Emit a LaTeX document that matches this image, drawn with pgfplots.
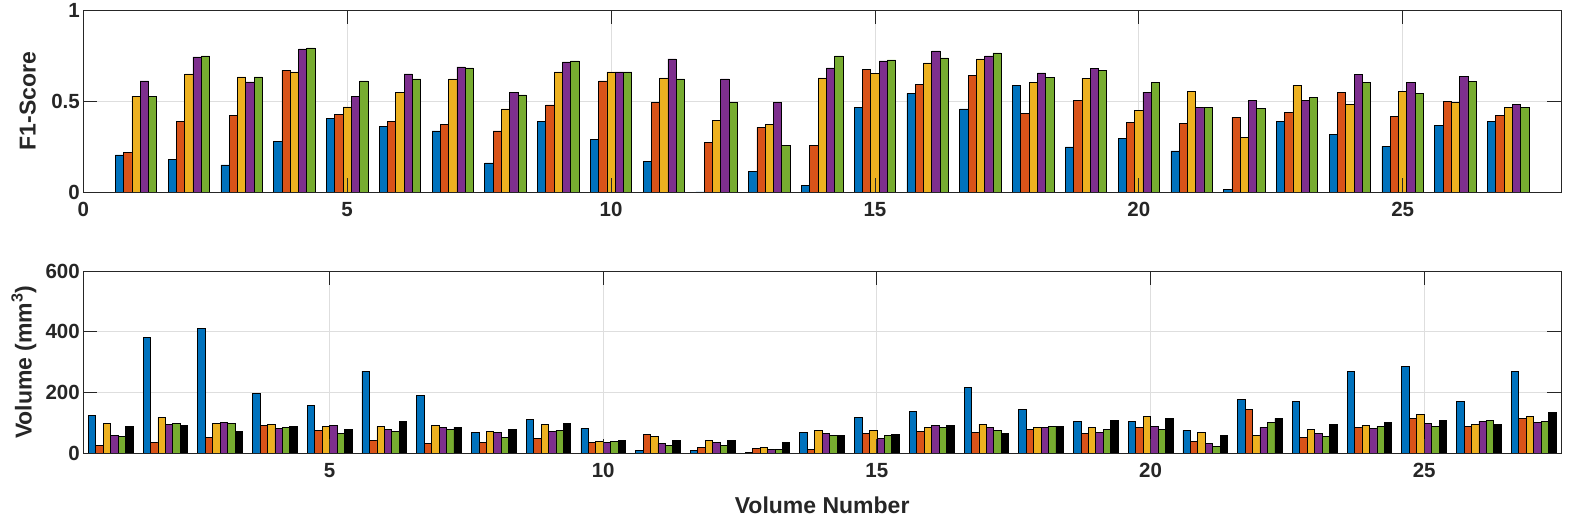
\documentclass[border=0pt]{standalone}
\usepackage{fontspec}
\setmainfont{Liberation Sans}
\usepackage{pgfplots}
\usepackage{pgfplotstable}
\pgfplotsset{compat=1.18}

% MATLAB default colour order
\definecolor{mblue}{rgb}{0,0.447,0.741}
\definecolor{morange}{rgb}{0.850,0.325,0.098}
\definecolor{myellow}{rgb}{0.929,0.694,0.125}
\definecolor{mpurple}{rgb}{0.494,0.184,0.556}
\definecolor{mgreen}{rgb}{0.466,0.674,0.188}
\definecolor{axgray}{HTML}{262626}
\definecolor{gridgray}{HTML}{DEDEDE}

\newcommand{\labelfont}{\fontsize{23}{23}\selectfont\bfseries}

% F1-scores per volume, five methods
\pgfplotstableread{
x  a     b     c     d     e
1  0.204 0.218 0.527 0.611 0.527
2  0.180 0.389 0.650 0.743 0.749
3  0.149 0.422 0.633 0.606 0.633
4  0.279 0.670 0.661 0.787 0.793
5  0.406 0.428 0.468 0.527 0.611
6  0.361 0.389 0.550 0.650 0.622
7  0.336 0.372 0.622 0.688 0.683
8  0.160 0.336 0.457 0.550 0.534
9  0.389 0.479 0.661 0.716 0.721
10 0.290 0.611 0.661 0.661 0.661
11 0.169 0.494 0.628 0.732 0.622
12 0.000 0.273 0.394 0.622 0.494
13 0.114 0.356 0.372 0.494 0.257
14 0.037 0.257 0.628 0.683 0.749
15 0.466 0.675 0.653 0.721 0.727
16 0.543 0.593 0.710 0.776 0.738
17 0.457 0.642 0.732 0.749 0.765
18 0.587 0.433 0.604 0.655 0.631
19 0.248 0.506 0.626 0.681 0.670
20 0.295 0.383 0.450 0.549 0.604
21 0.226 0.378 0.554 0.466 0.466
22 0.015 0.411 0.301 0.505 0.461
23 0.389 0.439 0.587 0.505 0.521
24 0.317 0.549 0.483 0.648 0.604
25 0.251 0.417 0.554 0.604 0.543
26 0.367 0.499 0.494 0.637 0.609
27 0.389 0.422 0.466 0.483 0.466
}\fscore

% Volumes (mm^3) per volume number, five methods and reference
\pgfplotstableread{
x  a   b   c   d   e   f
1  124 25  98  59  55  89
2  382 35  118 95  98  92
3  412 52  98  101 98  72
4  197 91  95  81  85  89
5  157 75  88  91  65  78
6  270 42  88  78  72  105
7  190 32  91  85  78  85
8  68  35  72  68  52  78
9  111 48  95  72  75  98
10 81  35  39  35  39  42
11 9   62  55  32  25  42
12 9   19  42  35  25  42
13 2   15  19  12  12  35
14 68  12  75  65  58  58
15 118 65  75  48  58  62
16 138 72  85  91  85  91
17 217 68  95  85  75  65
18 144 78  85  85  88  88
19 105 65  85  68  78  108
20 105 85  121 88  78  114
21 75  39  68  32  22  58
22 177 144 58  85  101 114
23 171 52  78  65  55  95
24 270 85  91  81  88  101
25 286 114 128 98  88  108
26 171 88  95  105 108 95
27 270 114 121 101 105 134
}\volumes

\pgfplotsset{
  panel/.style={
    scale only axis, width=1477.7pt, height=181.7pt,
    tick align=inside, major tick length=13.5pt,
    axis line style={axgray, line width=0.8pt},
    every tick/.style={axgray, line width=0.8pt},
    tick label style={font=\fontsize{20.5}{20.5}\selectfont\bfseries, text=axgray},
    xticklabel style={yshift=-7pt},
    /pgf/number format/assume math mode=true,
    scaled y ticks=false,
  },
  back/.style={panel, xmajorgrids, ymajorgrids,
    major grid style={gridgray, line width=0.8pt}},
  front/.style={panel, xticklabels={}, yticklabels={}, axis on top},
  mbar/.style={ybar, draw=black, line width=0.7pt},
  toppanel/.style={at={(83.3pt,326pt)}, anchor=south west,
    xmin=0, xmax=28, ymin=0, ymax=1,
    xtick={0,5,...,25}, ytick={0,0.5,1}},
  botpanel/.style={at={(83.3pt,65pt)}, anchor=south west,
    xmin=0.5, xmax=27.5, ymin=0, ymax=600,
    xtick={5,10,...,25}, ytick={0,200,400,600}},
}

\begin{document}
\begin{tikzpicture}
\path[use as bounding box] (0pt,0pt) rectangle (1569pt,518pt);

% F1-score panel
\begin{axis}[back, toppanel,
  ylabel={F1-Score},
  every axis y label/.style={at={(axis description cs:-0.0322,0.5)},
    rotate=90, anchor=base, font=\labelfont, text=axgray}]
  \addplot[mbar, fill=mblue,   bar width=0.157, bar shift=-0.314] table[x=x,y=a]{\fscore};
  \addplot[mbar, fill=morange, bar width=0.157, bar shift=-0.157] table[x=x,y=b]{\fscore};
  \addplot[mbar, fill=myellow, bar width=0.157, bar shift=0]      table[x=x,y=c]{\fscore};
  \addplot[mbar, fill=mpurple, bar width=0.157, bar shift=0.157]  table[x=x,y=d]{\fscore};
  \addplot[mbar, fill=mgreen,  bar width=0.157, bar shift=0.314]  table[x=x,y=e]{\fscore};
\end{axis}
\begin{axis}[front, toppanel]
\end{axis}

% Volume panel
\begin{axis}[back, botpanel,
  ylabel={Volume (mm\textsuperscript{3})},
  xlabel={Volume Number},
  every axis y label/.style={at={(axis description cs:-0.0349,0.5)},
    rotate=90, anchor=base, font=\labelfont, text=axgray},
  every axis x label/.style={at={(axis description cs:0.5,-0.3357)},
    anchor=base, font=\labelfont, text=axgray}]
  \addplot[mbar, fill=mblue,   bar width=0.136, bar shift=-0.340] table[x=x,y=a]{\volumes};
  \addplot[mbar, fill=morange, bar width=0.136, bar shift=-0.204] table[x=x,y=b]{\volumes};
  \addplot[mbar, fill=myellow, bar width=0.136, bar shift=-0.068] table[x=x,y=c]{\volumes};
  \addplot[mbar, fill=mpurple, bar width=0.136, bar shift=0.068]  table[x=x,y=d]{\volumes};
  \addplot[mbar, fill=mgreen,  bar width=0.136, bar shift=0.204]  table[x=x,y=e]{\volumes};
  \addplot[mbar, fill=black,   bar width=0.136, bar shift=0.340]  table[x=x,y=f]{\volumes};
\end{axis}
\begin{axis}[front, botpanel]
\end{axis}
\end{tikzpicture}
\end{document}
